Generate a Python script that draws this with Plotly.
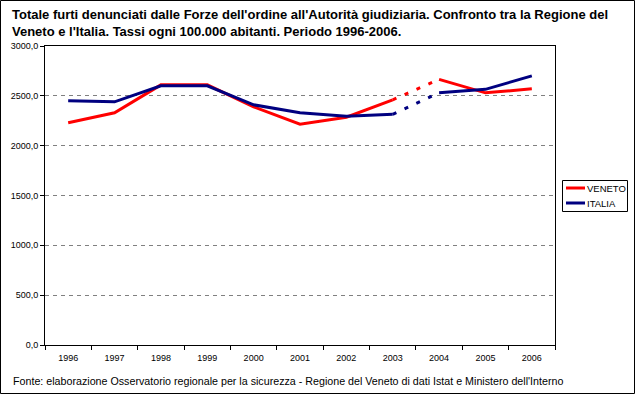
import plotly.graph_objects as go

years = ["1996", "1997", "1998", "1999", "2000", "2001", "2002", "2003", "2004", "2005", "2006"]
veneto = [2230, 2330, 2610, 2610, 2390, 2215, 2285, 2460, 2665, 2530, 2570]
italia = [2450, 2440, 2600, 2600, 2410, 2330, 2295, 2315, 2530, 2565, 2700]
y_ticks = [0, 500, 1000, 1500, 2000, 2500, 3000]
series_names = ["VENETO", "ITALIA"]

title_text = ("Totale furti denunciati dalle Forze dell'ordine all'Autorità giudiziaria. Confronto tra la Regione del<br>"
              "Veneto e l'Italia. Tassi ogni 100.000 abitanti. Periodo 1996-2006.")
source_text = "Fonte: elaborazione Osservatorio regionale per la sicurezza - Regione del Veneto di dati Istat e Ministero dell'Interno"

W, H = 635, 394
L, R, T, B = 45, 80, 46, 49
pw, ph = W - L - R, H - T - B

def px(xp):
    return (xp - L) / pw

def py(yp):
    return (H - B - yp) / ph

RED = "#FF0000"
NAVY = "#000080"
LW = 3
FONT = "Liberation Sans, Arial, sans-serif"

fig = go.Figure()

def add_series(name, vals, color):
    gap = years.index("2003")
    fig.add_trace(go.Scatter(x=years[:gap + 1], y=vals[:gap + 1], mode="lines", name=name,
                             line=dict(color=color, width=LW)))
    fig.add_trace(go.Scatter(x=years[gap:gap + 2], y=vals[gap:gap + 2], mode="lines", name=name,
                             line=dict(color=color, width=LW, dash="4px,9px")))
    fig.add_trace(go.Scatter(x=years[gap + 1:], y=vals[gap + 1:], mode="lines", name=name,
                             line=dict(color=color, width=LW)))

add_series(series_names[0], veneto, RED)
add_series(series_names[1], italia, NAVY)

shapes = [
    # outer frame
    dict(type="rect", xref="paper", yref="paper",
         x0=px(0.5), x1=px(W - 0.5), y0=py(H - 0.5), y1=py(0.5),
         line=dict(color="black", width=1), layer="above"),
    # legend box
    dict(type="rect", xref="paper", yref="paper",
         x0=px(562.5), x1=px(627.5), y0=py(211.5), y1=py(180.5),
         line=dict(color="black", width=1), fillcolor="white", layer="above"),
]
annotations = [
    dict(text="<b>" + title_text.replace("<br>", "</b><br><b>") + "</b>", xref="paper", yref="paper",
         x=px(10), y=py(5), xanchor="left", yanchor="top", align="left", showarrow=False,
         font=dict(family=FONT, size=13, color="black")),
    dict(text=source_text, xref="paper", yref="paper", x=px(11), y=py(381),
         xanchor="left", yanchor="middle", align="left", showarrow=False,
         font=dict(family=FONT, size=10.7, color="black")),
]
for i, (nm, col) in enumerate(zip(series_names, [RED, NAVY])):
    yy = 188 + 15 * i
    shapes.append(dict(type="line", xref="paper", yref="paper",
                       x0=px(566), x1=px(585), y0=py(yy), y1=py(yy),
                       line=dict(color=col, width=3), layer="above"))
    annotations.append(dict(text=nm, xref="paper", yref="paper", x=px(585), y=py(yy),
                            xanchor="left", yanchor="middle", showarrow=False,
                            font=dict(family=FONT, size=9.5, color="black")))

fig.update_layout(
    width=W, height=H,
    margin=dict(l=L, r=R, t=T, b=B, pad=0, autoexpand=False),
    paper_bgcolor="white", plot_bgcolor="white",
    separators=",.",
    font=dict(family=FONT, size=9, color="black"),
    showlegend=False,
    xaxis=dict(type="category", showline=True, linecolor="black", linewidth=1, mirror=True,
               showgrid=False, ticks="outside", ticklen=4, tickcolor="black",
               tickson="boundaries", range=[-0.5, len(years) - 0.5], fixedrange=True,
               automargin=False, ticklabelstandoff=4),
    yaxis=dict(range=[0, 3000], tickvals=y_ticks, tickformat=".1f",
               showline=True, linecolor="black", linewidth=1, mirror=True,
               showgrid=True, gridcolor="#808080", gridwidth=1, griddash="4px,4px",
               ticks="outside", ticklen=4, tickcolor="black", zeroline=False, fixedrange=True,
               automargin=False),
    annotations=annotations,
    shapes=shapes,
)

fig.write_html("out.html", config={"displayModeBar": False},
               post_script="document.body.style.margin='0';document.body.style.padding='0';"
                           "document.body.style.overflow='hidden';")
